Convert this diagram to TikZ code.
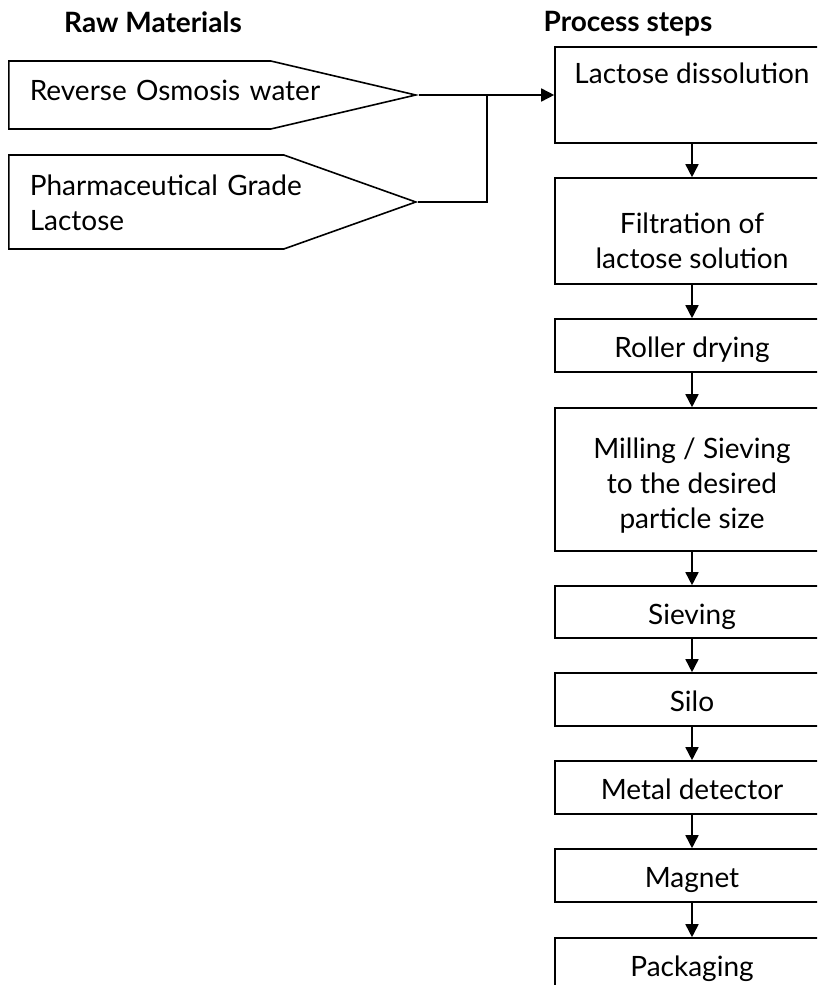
\documentclass[tikz,border=0pt]{standalone}
\usepackage{fontspec}
\setmainfont{Lato}
\usepackage{tikz}
\usetikzlibrary{arrows.meta, shapes.symbols}

\tikzset{
  stepbox/.style={draw, rectangle, minimum width=274pt, line width=1.6pt,
    align=center, inner sep=3pt, text height=28pt, text depth=4pt},
  rawbox/.style={draw, signal, signal to=east, line width=1.6pt,
    inner xsep=21pt, inner ysep=3pt, align=left},
  heading/.style={font=\fontsize{28}{35}\selectfont\bfseries, anchor=base},
  flow/.style={-{Triangle[length=13pt,width=13pt]}, line width=1.6pt}
}

\begin{document}
\begin{tikzpicture}[x=1pt, y=-1pt, font=\fontsize{28}{35}\selectfont]
\useasboundingbox (0,0) rectangle (817,985);
\clip (0,0) rectangle (817,985);

% titres
\node[heading] (rawhead) at (153,32) {Raw Materials};
\node[heading] (prochead) at (628,31) {Process steps};

% matieres premieres
\node[rawbox, anchor=west, minimum height=68pt, text width=220pt,
  signal pointer angle=26.4, text height=20pt, text depth=10pt]
  (osmo) at (8,95) {\mbox{Reverse Osmosis water}};
\node[rawbox, anchor=west, minimum height=94pt, text width=233pt,
  signal pointer angle=39.2, text height=20pt, text depth=34pt]
  (lact) at (8,202) {\mbox{Pharmaceutical Grade}\\Lactose};

% etapes
\node[stepbox, minimum height=96pt, text height=20pt, text depth=44pt]
  (dissol) at (692,95) {Lactose dissolution};
\node[stepbox, minimum height=106pt, text height=78pt, text depth=4pt]
  (filtr) at (692,231) {Filtration of\\lactose solution};
\node[stepbox, minimum height=53pt] (roller) at (692,345.5) {Roller drying};
\node[stepbox, minimum height=143pt, text height=103pt, text depth=6pt]
  (mill) at (692,479.5) {Milling / Sieving\\to the desired\\particle size};
\node[stepbox, minimum height=52pt] (sieve) at (692,612) {Sieving};
\node[stepbox, minimum height=53pt] (silo) at (692,699.5) {Silo};
\node[stepbox, minimum height=53pt] (metal) at (692,787.5) {Metal detector};
\node[stepbox, minimum height=53pt] (magnet) at (692,875.5) {Magnet};
\node[stepbox, minimum height=53pt] (pack) at (692,964.5) {Packaging};

% jonction
\coordinate (join) at (487,95);

% fleches
\draw[flow] (osmo.east) -- (dissol.west);
\draw[line width=1.6pt] (lact.east) -| (join);

\draw[flow] (dissol) -- (filtr);
\draw[flow] (filtr) -- (roller);
\draw[flow] (roller) -- (mill);
\draw[flow] (mill) -- (sieve);
\draw[flow] (sieve) -- (silo);
\draw[flow] (silo) -- (metal);
\draw[flow] (metal) -- (magnet);
\draw[flow] (magnet) -- (pack);
\end{tikzpicture}
\end{document}
